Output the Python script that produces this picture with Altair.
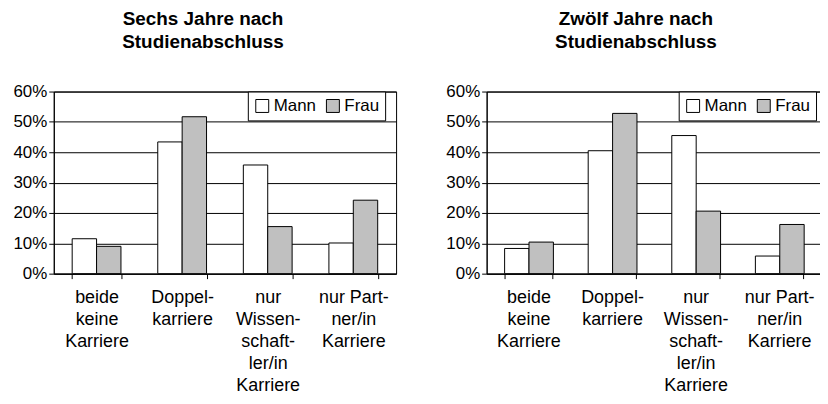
import altair as alt
import pandas as pd

categories = [
    "beide|keine|Karriere",
    "Doppel-|karriere",
    "nur|Wissen-|schaft-|ler/in|Karriere",
    "nur Part-|ner/in|Karriere",
]
groups = ["Mann", "Frau"]
sechs_mann = [11.5, 43.4, 35.8, 10.1]
sechs_frau = [9.0, 51.7, 15.5, 24.2]
zwoelf_mann = [8.3, 40.5, 45.5, 5.8]
zwoelf_frau = [10.4, 52.8, 20.6, 16.2]
titles = [["Sechs Jahre nach", "Studienabschluss"], ["Zwölf Jahre nach", "Studienabschluss"]]
y_ticks = [0, 10, 20, 30, 40, 50, 60]
colors = ["white", "#c0c0c0"]

FONT = "Liberation Sans"


def make_df(mann, frau):
    rows = []
    for c, m, f in zip(categories, mann, frau):
        rows.append({"Kategorie": c, "Geschlecht": "Mann", "Anteil": m})
        rows.append({"Kategorie": c, "Geschlecht": "Frau", "Anteil": f})
    return pd.DataFrame(rows)


def panel(df, title, legend_x, title_dx, width):
    return alt.Chart(df).mark_bar(stroke="black", strokeWidth=1).encode(
        x=alt.X(
            "Kategorie:N",
            sort=categories,
            scale=alt.Scale(paddingInner=0.43, paddingOuter=0.215),
            axis=alt.Axis(
                title=None,
                labelExpr="split(datum.label, '|')",
                labelAngle=0,
                tickBand="extent",
                domainColor="black",
                tickColor="black",
                tickSize=5,
                labelFont=FONT,
                labelFontSize=18,
                labelLineHeight=22,
                labelPadding=10,
                labelColor="black",
                labelBaseline="top",
                labelLimit=0,
                labelOverlap=False,
                grid=False,
            ),
        ),
        xOffset=alt.XOffset(
            "Geschlecht:N", sort=groups, scale=alt.Scale(paddingInner=0, paddingOuter=0)
        ),
        y=alt.Y(
            "Anteil:Q",
            scale=alt.Scale(domain=[0, 60], nice=False),
            axis=alt.Axis(
                title=None,
                values=y_ticks,
                labelExpr="datum.value + '%'",
                domainColor="black",
                tickColor="black",
                tickSize=5,
                gridColor="black",
                gridOpacity=1,
                labelFont=FONT,
                labelFontSize=17,
                labelColor="black",
                labelPadding=2,
                minExtent=45,
                maxExtent=45,
            ),
        ),
        color=alt.Color(
            "Geschlecht:N",
            sort=groups,
            scale=alt.Scale(domain=groups, range=colors),
            legend=alt.Legend(
                title=None,
                orient="none",
                legendX=legend_x,
                legendY=0,
                direction="horizontal",
                fillColor="white",
                strokeColor="black",
                padding=6,
                symbolType="square",
                symbolSize=169,
                symbolStrokeColor="black",
                symbolStrokeWidth=1,
                labelFont=FONT,
                labelFontSize=17,
                labelColor="black",
                labelOffset=3,
                columnPadding=8,
            ),
        ),
    ).properties(
        width=width,
        height=183,
        title=alt.TitleParams(
            text=title,
            font=FONT,
            fontSize=19,
            fontWeight="bold",
            color="black",
            anchor="middle",
            dx=title_dx,
            lineHeight=23,
            offset=31,
        ),
    )


left = panel(make_df(sechs_mann, sechs_frau), titles[0], 195, -22, 344)
right = panel(make_df(zwoelf_mann, zwoelf_frau), titles[1], 193, -18, 336)

chart = (
    alt.hconcat(left, right, spacing=44)
    .resolve_scale(color="independent")
    .resolve_legend(color="independent")
    .properties(padding={"left": 0, "top": 0, "right": -2, "bottom": 0})
    .configure_view(stroke="black", strokeWidth=1)
)

chart.save("out.html", embed_options={"renderer": "svg", "actions": False})
